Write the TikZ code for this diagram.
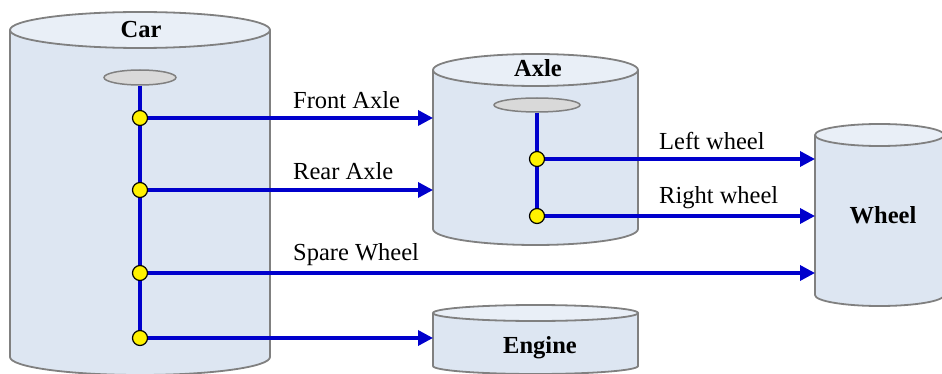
\documentclass[tikz,border=0pt]{standalone}
\usepackage{fontspec}
\setmainfont{Liberation Serif}
\usetikzlibrary{arrows.meta,positioning,shapes.geometric}
\definecolor{drumfill}{RGB}{221,230,242}
\definecolor{drumtop}{RGB}{233,239,247}
\definecolor{drumedge}{RGB}{128,128,128}
\definecolor{hubfill}{RGB}{217,217,217}
\definecolor{linkblue}{RGB}{0,0,204}
\newcommand{\picfont}{\fontsize{24.5pt}{29pt}\selectfont}
\tikzset{
  drumline/.style={draw=drumedge,line width=1.8pt},
  hub/.style={ellipse,draw=drumedge,line width=1.5pt,fill=hubfill,inner sep=0pt},
  dot/.style={circle,draw=black,line width=1.2pt,fill=yellow,inner sep=0pt,minimum size=15pt},
  link/.style={draw=linkblue,line width=3.4pt,-{Triangle[length=15pt,width=15pt]}},
  spine/.style={draw=linkblue,line width=3.4pt},
  lbl/.style={anchor=base west,inner sep=0pt},
  title/.style={anchor=base,inner sep=0pt,font=\picfont\bfseries},
}
% name, left, right, top, bottom, y radius
\newcommand{\drum}[6]{%
  \pgfmathsetmacro\drumrx{(#3-#2)/2}
  \pgfmathsetmacro\drumcx{(#3+#2)/2}
  \fill[drumfill] (#2,#4) -- (#2,#5) arc[start angle=180,end angle=360,x radius=\drumrx pt,y radius=#6pt] -- (#3,#4) -- cycle;
  \draw[drumline] (#2,#4) -- (#2,#5) arc[start angle=180,end angle=360,x radius=\drumrx pt,y radius=#6pt] -- (#3,#4);
  \draw[drumline,fill=drumtop] (\drumcx,#4) ellipse[x radius=\drumrx pt,y radius=#6pt];
  \coordinate (#1w) at (#2,#4);
}

\begin{document}
\begin{tikzpicture}[x=1pt,y=1pt,font=\picfont]
\useasboundingbox (0,0) rectangle (942,-374);
% tables
\drum{car}{10}{270}{-30}{-357}{18}
\drum{axle}{433}{638}{-70}{-229}{16}
\drum{wheel}{815}{944}{-135}{-295}{11}
\drum{engine}{433}{638}{-313}{-366}{8}
\node[title] (carname) at (141,-38) {Car};
\node[title] (axlename) at (538,-77) {Axle};
\node[title] (wheelname) at (883,-223) {Wheel};
\node[title] (enginename) at (540,-353) {Engine};
% keys
\node[hub,minimum width=72pt,minimum height=15pt] (carhub) at (140,-77.5) {};
\node[hub,minimum width=86pt,minimum height=14pt] (axlehub) at (537,-105) {};
\node[dot] (c1) at (140,-118) {};
\node[dot] (c2) at (140,-190) {};
\node[dot] (c3) at (140,-273) {};
\node[dot] (c4) at (140,-338) {};
\node[dot] (a1) at (537,-159) {};
\node[dot] (a2) at (537,-216) {};
\draw[spine] (carhub) -- (c1) (c1) -- (c2) (c2) -- (c3) (c3) -- (c4);
\draw[spine] (axlehub) -- (a1) (a1) -- (a2);
% references
\draw[link] (c1) -- (c1 -| axlew);
\draw[link] (c2) -- (c2 -| axlew);
\draw[link] (c3) -- (c3 -| wheelw);
\draw[link] (c4) -- (c4 -| enginew);
\draw[link] (a1) -- (a1 -| wheelw);
\draw[link] (a2) -- (a2 -| wheelw);
\node[lbl] (front) at (293,-109) {Front Axle};
\node[lbl] (rear) at (293,-180) {Rear Axle};
\node[lbl] (spare) at (293,-260) {Spare Wheel};
\node[lbl] (left) at (659,-150) {Left wheel};
\node[lbl] (right) at (659,-204) {Right wheel};
\end{tikzpicture}
\end{document}
